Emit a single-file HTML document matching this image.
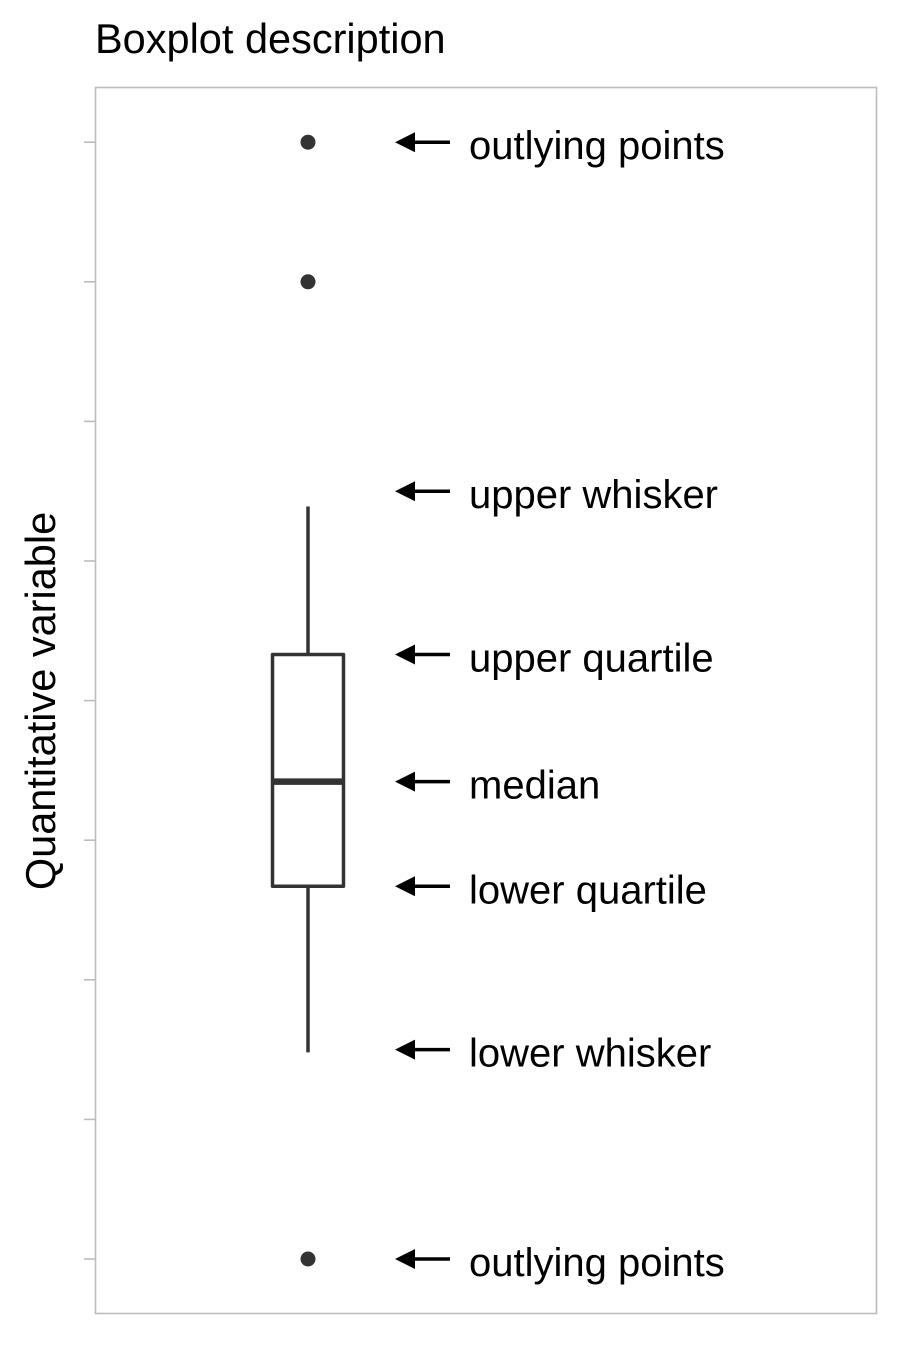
<!DOCTYPE html>
<html><head><meta charset="utf-8"><style>
html,body{margin:0;padding:0;background:#fff;}
svg{display:block;font-family:"Liberation Sans",Arial,sans-serif;}
</style></head><body>
<svg id="chart" width="900" height="1350" viewBox="0 0 900 1350">
  <text x="95" y="53" font-size="41.5" fill="#000">Boxplot description</text>
  <text transform="translate(55,701) rotate(-90)" text-anchor="middle" font-size="41.5" fill="#000">Quantitative variable</text>
  <rect x="95.5" y="87.5" width="781" height="1226" fill="#fff" stroke="#bdbdbd" stroke-width="1.6"/>
  <g id="ticks"></g>
  <g id="marks"></g>
  <g id="notes"></g>
</svg>
<script>
const tickValues = [0,1,2,3,4,5,6,7,8];
const outliers = [8, 7, 0];
const lowerWhisker = 1.48;
const lowerQuartile = 2.67;
const median = 3.42;
const upperQuartile = 4.33;
const upperWhisker = 5.39;
const annotationLabels = ["outlying points","upper whisker","upper quartile","median","lower quartile","lower whisker","outlying points"];
const annotationValues = [8, 5.5, 4.33, 3.42, 2.67, 1.5, 0];

const NS = "http://www.w3.org/2000/svg";
function y(v){ return 1259 - v * 139.6; }
const cx = 308, halfW = 35.5;
function mk(tag, attrs, parent){
  const e = document.createElementNS(NS, tag);
  for (const k in attrs) e.setAttribute(k, attrs[k]);
  parent.appendChild(e);
  return e;
}
const ticks = document.getElementById('ticks');
tickValues.forEach(v => {
  const t = mk('line', {x1:84, x2:95, y1:y(v), y2:y(v), stroke:'#bdbdbd', 'stroke-width':1.6}, ticks);
  
  
});
const marks = document.getElementById('marks');
const col = '#333';
let w1 = mk('line', {x1:cx, x2:cx, y1:y(upperQuartile), y2:y(upperWhisker), stroke:col, 'stroke-width':3.5}, marks);


let w2 = mk('line', {x1:cx, x2:cx, y1:y(lowerQuartile), y2:y(lowerWhisker), stroke:col, 'stroke-width':3.5}, marks);


let box = mk('rect', {x:cx-halfW, y:y(upperQuartile), width:halfW*2, height:y(lowerQuartile)-y(upperQuartile), fill:'#fff', stroke:col, 'stroke-width':3.5, 'stroke-linejoin':'round'}, marks);


let med = mk('line', {x1:cx-halfW, x2:cx+halfW, y1:y(median), y2:y(median), stroke:col, 'stroke-width':6.5}, marks);


outliers.forEach(v => {
  const c = mk('circle', {cx:cx, cy:y(v), r:7.5, fill:col}, marks);
  
  
});
const notes = document.getElementById('notes');
annotationLabels.forEach((lab, i) => {
  const yy = y(annotationValues[i]);
  const g = mk('g', {}, notes);
  
  
  mk('line', {x1:410, x2:450, y1:yy, y2:yy, stroke:'#000', 'stroke-width':3.5}, g);
  mk('polygon', {points:`395,${yy} 415,${yy-10} 415,${yy+10}`, fill:'#000'}, g);
  const t = mk('text', {x:469, y:yy+17, 'font-size':40, fill:'#000'}, g);
  t.textContent = lab;
});
</script>
</body></html>
